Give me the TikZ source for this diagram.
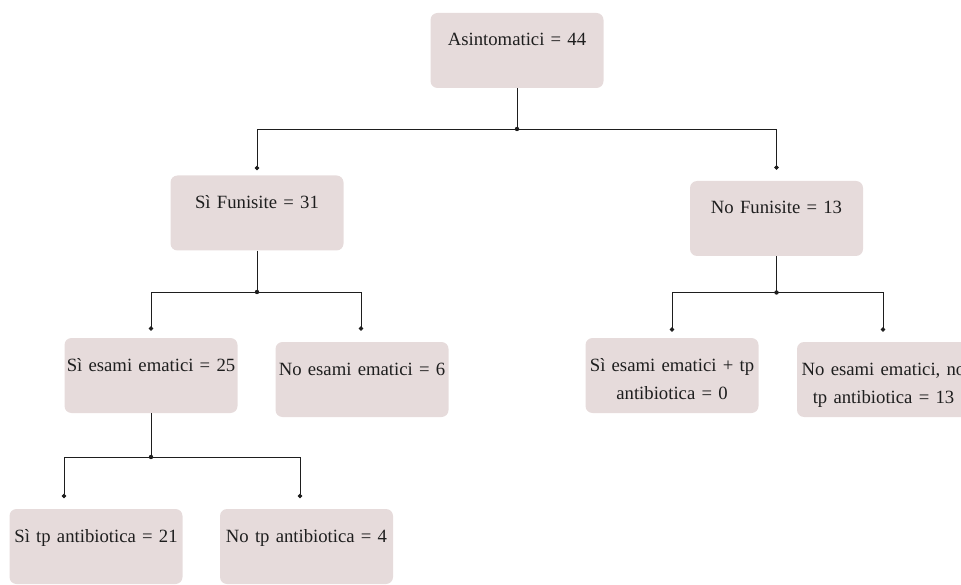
\documentclass[tikz,border=0pt]{standalone}
\usepackage{fontspec}
\setmainfont{Liberation Serif}
\usetikzlibrary{arrows.meta}
\definecolor{boxfill}{RGB}{230,219,219}
\definecolor{inkgray}{RGB}{30,30,30}
\begin{document}
\begin{tikzpicture}[x=1pt,y=-1pt,>=Stealth,
    every node/.style={font=\fontsize{18.7}{28}\selectfont,text=inkgray},
    box/.style={rounded corners=7pt,fill=boxfill,minimum width=173pt,
      text width=169pt,align=center,inner xsep=2pt,inner ysep=0pt,
      text height=33pt,text depth=42pt},
    link/.style={draw=inkgray,line width=0.85pt,-{Circle[length=4.5pt]}}]
    \useasboundingbox (0,0) rectangle (961,585);
    \clip (0,0) rectangle (961,585);
    % boxes
    \node[box] (root) at (517,50.5) {Asintomatici = 44};
    \node[box] (fsi) at (257,213) {Sì Funisite = 31};
    \node[box] (fno) at (776.5,218.5) {No Funisite = 13};
    \node[box] (esi) at (151,375.5) {Sì esami ematici = 25};
    \node[box] (eno) at (362,379.5) {No esami ematici = 6};
    \node[box] (tsi) at (672,375.5) {Sì esami ematici + tp\\antibiotica = 0};
    \node[box] (tno) at (883.5,379.5) {No esami ematici, no\\tp antibiotica = 13};
    \node[box] (asi) at (96,546.5) {Sì tp antibiotica = 21};
    \node[box] (ano) at (306.5,546.5) {No tp antibiotica = 4};
    % junctions
    \coordinate (j1) at (517,129);
    \coordinate (j2) at (257,292);
    \coordinate (j3) at (776.5,292.5);
    \coordinate (j4) at (151,457);
    % connectors
    \draw[link] (root.south) -- (j1) -| ([yshift=5pt]fsi.north);
    \draw[link] (j1) -| ([yshift=11pt]fno.north);
    \draw[link] (fsi.south) -- (j2) -| ([yshift=7pt]esi.north);
    \draw[link] (j2) -| ([xshift=-1pt,yshift=11pt]eno.north);
    \draw[link] (fno.south) -- (j3) -| ([xshift=-0.5pt,yshift=10pt]tno.north);
    \draw[link] (j3) -| ([yshift=6pt]tsi.north);
    \draw[link] (esi.south) -- (j4) -| ([xshift=-32pt,yshift=10.5pt]asi.north);
    \draw[link] (j4) -| ([xshift=-6.5pt,yshift=10.5pt]ano.north);
    \foreach \j in {j1,j2,j3,j4}{\fill[inkgray] (\j) circle (2.2pt);}
\end{tikzpicture}
\end{document}
